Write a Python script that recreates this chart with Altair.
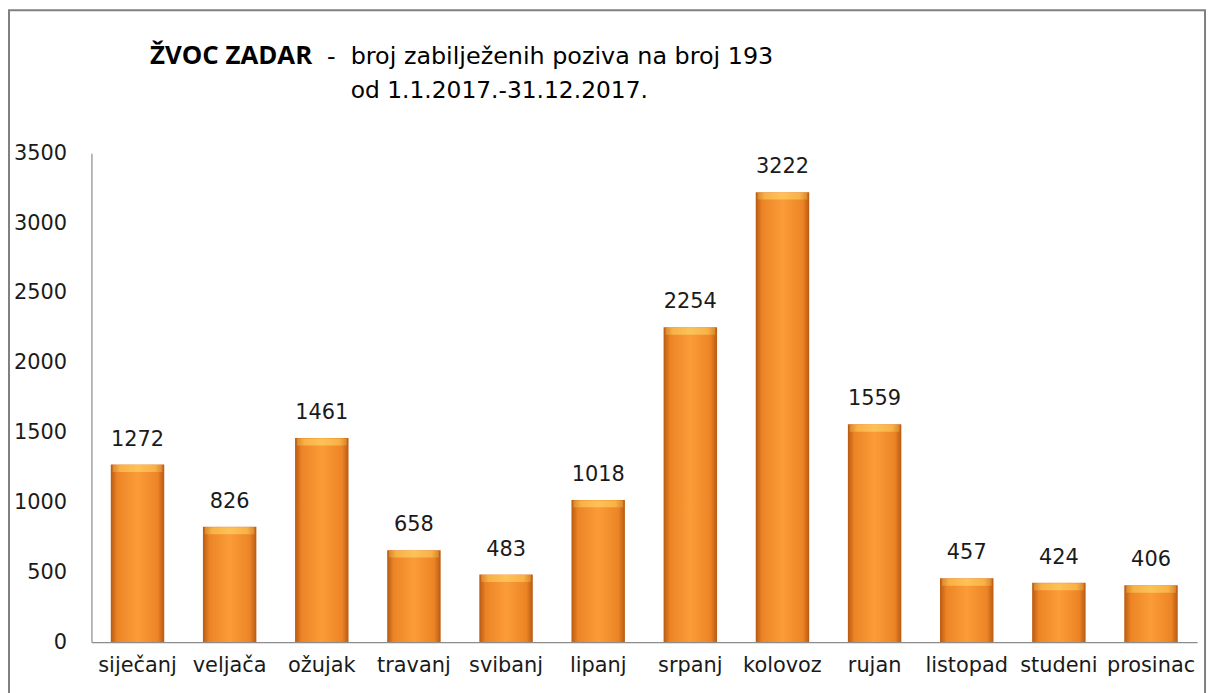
import altair as alt
import pandas as pd

months = ["siječanj", "veljača", "ožujak", "travanj", "svibanj", "lipanj",
          "srpanj", "kolovoz", "rujan", "listopad", "studeni", "prosinac"]
calls = [1272, 826, 1461, 658, 483, 1018, 2254, 3222, 1559, 457, 424, 406]
y_ticks = [0, 500, 1000, 1500, 2000, 2500, 3000, 3500]

title_bold = "ŽVOC ZADAR"
title_dash = "-"
title_rest = "broj  zabilježenih poziva na broj 193"
title_line2 = "od 1.1.2017.-31.12.2017."

df = pd.DataFrame({"month": months, "calls": calls})

FONT = "DejaVu Sans"

grad = alt.Gradient(
    gradient="linear",
    stops=[
        alt.GradientStop(color="#b85a12", offset=0),
        alt.GradientStop(color="#ec8426", offset=0.12),
        alt.GradientStop(color="#fb9c38", offset=0.5),
        alt.GradientStop(color="#ec8426", offset=0.88),
        alt.GradientStop(color="#b85a12", offset=1),
    ],
    x1=0, x2=1, y1=0, y2=0,
)
bevel = alt.Gradient(
    gradient="linear",
    stops=[
        alt.GradientStop(color="#d98a30", offset=0),
        alt.GradientStop(color="#f9b447", offset=0.15),
        alt.GradientStop(color="#fcc45a", offset=0.5),
        alt.GradientStop(color="#f9b447", offset=0.85),
        alt.GradientStop(color="#d98a30", offset=1),
    ],
    x1=0, x2=1, y1=0, y2=0,
)

x_enc = alt.X("month:N", sort=months,
              scale=alt.Scale(paddingInner=0.42, paddingOuter=0.21),
              axis=alt.Axis(title=None, labelAngle=0, ticks=False, tickSize=0,
                            labelFont=FONT, labelFontSize=21, labelColor="#1a1a1a",
                            labelPadding=13, domainColor="#8c8c8c", domainWidth=1.2))
y_enc = alt.Y("calls:Q",
              scale=alt.Scale(domain=[0, 3500], nice=False),
              axis=alt.Axis(title=None, values=y_ticks, format="d", grid=False,
                            ticks=False, tickSize=0,
                            labelFont=FONT, labelFontSize=21, labelColor="#1a1a1a",
                            labelPadding=25, domainColor="#8c8c8c", domainWidth=1.2))

base = alt.Chart(df)

bars = base.mark_bar(color=grad).encode(x=x_enc, y=y_enc)

tops = base.mark_tick(color=bevel, thickness=7, size=50, yOffset=4, opacity=0.95).encode(
    x=alt.X("month:N", sort=months), y="calls:Q")

labels = base.mark_text(font=FONT, fontSize=21, color="#1a1a1a",
                        baseline="alphabetic", dy=-19).encode(
    x=alt.X("month:N", sort=months), y="calls:Q", text="calls:Q")

tdf = pd.DataFrame({"a": [0]})
t1 = alt.Chart(tdf).mark_text(text=title_bold, font="Open Sans", fontWeight="bold",
                              fontSize=26, align="left", baseline="middle",
                              color="#000000").encode(
    x=alt.value(59), y=alt.value(-98))
td = alt.Chart(tdf).mark_text(text=title_dash, font=FONT, fontSize=24,
                              align="left", baseline="middle", color="#000000").encode(
    x=alt.value(237), y=alt.value(-97))
t2 = alt.Chart(tdf).mark_text(text=title_rest, font=FONT, fontSize=24,
                              align="left", baseline="middle", color="#000000").encode(
    x=alt.value(261), y=alt.value(-97))
t3 = alt.Chart(tdf).mark_text(text=title_line2, font=FONT, fontSize=23.5,
                              align="left", baseline="middle", color="#000000").encode(
    x=alt.value(261), y=alt.value(-63))

border = alt.Chart(tdf).mark_rect(fill=None, stroke="#808080", strokeWidth=2).encode(
    x=alt.value(-83), x2=alt.value(1121), y=alt.value(-144), y2=alt.value(560))

chart = alt.layer(border, bars, tops, labels, t1, td, t2, t3).properties(
    width=1113, height=492,
    autosize=alt.AutoSizeParams(type="none"),
    padding={"left": 84, "top": 144, "right": 12, "bottom": 49},
).configure(background="white", view=alt.ViewConfig(stroke="transparent"))

chart.save("out.html", embed_options={"renderer": "svg", "actions": False})
